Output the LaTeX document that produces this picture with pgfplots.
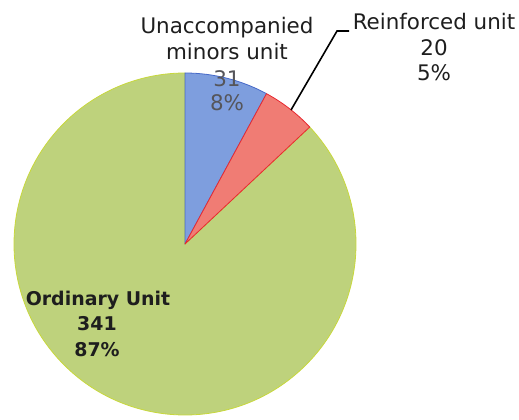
\documentclass[border=0pt]{standalone}
\usepackage{pgfplots}
\pgfplotsset{compat=1.18}
\usepackage{pgfplotstable}
\usepackage{fontspec}
\setmainfont{DejaVu Sans}
\definecolor{bluefill}{RGB}{126,158,222}
\definecolor{blueedge}{RGB}{70,105,200}
\definecolor{redfill}{RGB}{240,124,116}
\definecolor{rededge}{RGB}{232,40,48}
\definecolor{greenfill}{RGB}{190,210,124}
\definecolor{greenedge}{RGB}{200,216,60}
\definecolor{txt}{RGB}{30,30,30}
\definecolor{txtgray}{RGB}{85,85,90}

\pgfplotstableread{
label value
Unaccompanied 31
Reinforced 20
Ordinary 341
}\piedata
\pgfplotstablegetelem{0}{value}\of\piedata \let\va\pgfplotsretval
\pgfplotstablegetelem{1}{value}\of\piedata \let\vb\pgfplotsretval
\pgfplotstablegetelem{2}{value}\of\piedata \let\vc\pgfplotsretval
\pgfmathsetmacro\total{\va+\vb+\vc}
\pgfmathsetmacro\aA{90-360*\va/\total}
\pgfmathsetmacro\aB{\aA-360*\vb/\total}

\begin{document}
\begin{tikzpicture}
\begin{axis}[
  x=1bp, y=1bp,
  xmin=0, xmax=519, ymin=0, ymax=419,
  hide axis, clip=false,
]
\def\R{171bp}
\coordinate (bl) at (axis cs:0,0);
\coordinate (tr) at (axis cs:519,419);
% wedges (pie centre at pixel 185,244 -> axis 185,175)
\fill[greenfill, draw=greenedge, line width=0.8pt, line join=round]
  (axis cs:185,175) -- ++(\aB:\R) arc[start angle=\aB, end angle=-270, radius=\R] -- cycle;
\fill[bluefill, draw=blueedge, line width=0.8pt, line join=round]
  (axis cs:185,175) -- ++(90:\R) arc[start angle=90, end angle=\aA, radius=\R] -- cycle;
\fill[redfill, draw=rededge, line width=0.8pt, line join=round]
  (axis cs:185,175) -- ++(\aA:\R) arc[start angle=\aA, end angle=\aB, radius=\R] -- cycle;
% leader line
\draw[black, line width=1.6pt] (axis cs:291,309) -- (axis cs:337,388) -- (axis cs:349,388);
% labels
\begin{scope}[every node/.style={anchor=base, inner sep=0pt, font=\fontsize{21.5}{26}\selectfont}]
\node[txt] at (axis cs:227,386) {Unaccompanied};
\node[txt] at (axis cs:227,360) {minors unit};
\node[txtgray] at (axis cs:227,333) {31};
\node[txtgray] at (axis cs:227,309) {8\%};
\node[txt] at (axis cs:434,389) {Reinforced unit};
\node[txt] at (axis cs:434,364) {20};
\node[txt] at (axis cs:434,339) {5\%};
\node[txt, font=\fontsize{19}{26}\selectfont\bfseries] at (axis cs:98,114) {Ordinary Unit};
\node[txt, font=\fontsize{19}{26}\selectfont\bfseries] at (axis cs:97,89) {341};
\node[txt, font=\fontsize{19}{26}\selectfont\bfseries] at (axis cs:97,63) {87\%};
\end{scope}
\end{axis}
\pgfresetboundingbox
\path[use as bounding box] (bl) rectangle (tr);
\end{tikzpicture}
\end{document}
